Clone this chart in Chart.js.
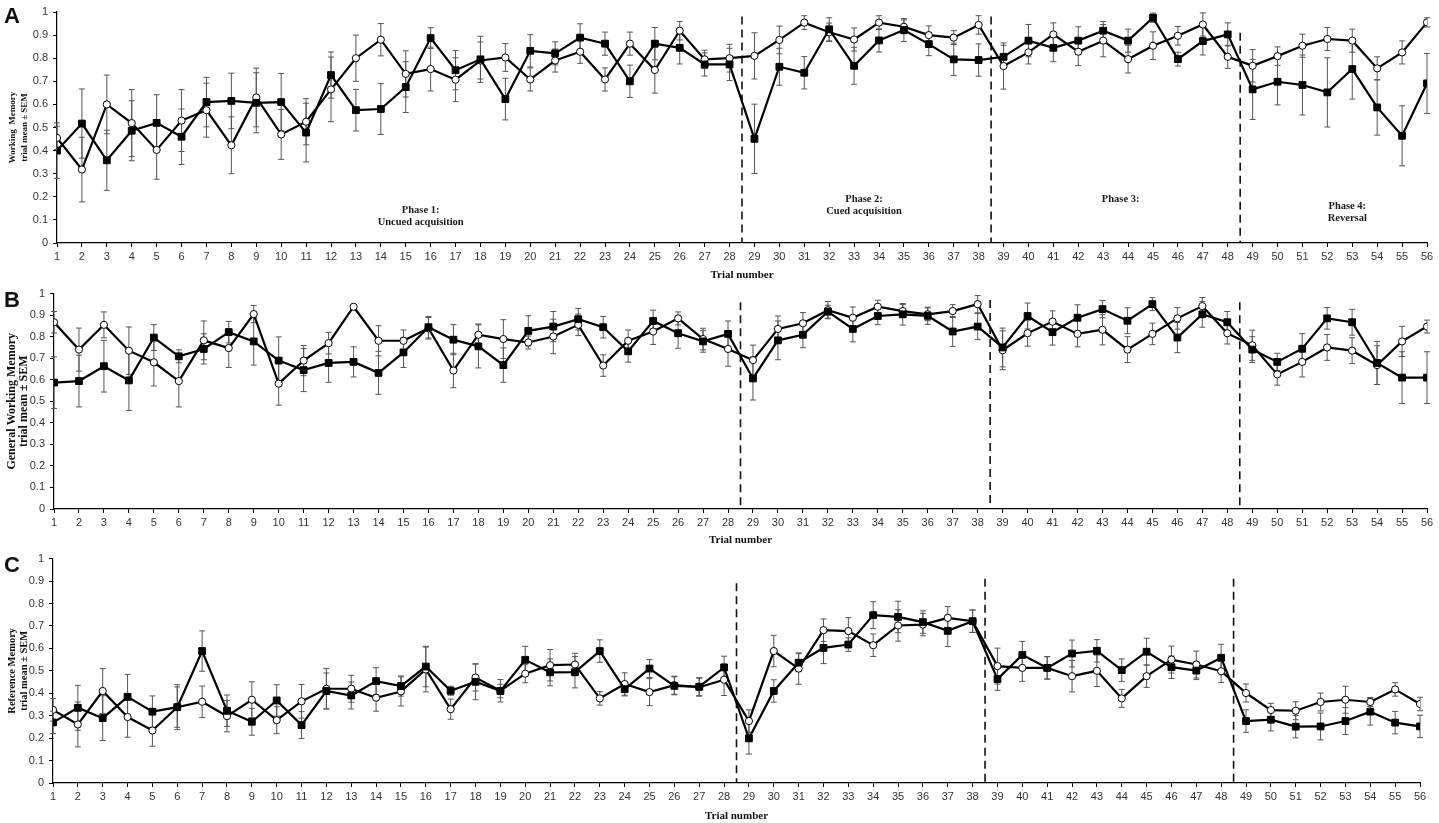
<!DOCTYPE html>
<html>
<head>
<meta charset="utf-8">
<script src="https://cdn.jsdelivr.net/npm/chart.js@4.4.1/dist/chart.umd.min.js"></script>
<style>
  body { margin: 0; background: #fff; width: 1439px; height: 823px; overflow: hidden; position: relative; }
  .panel { position: absolute; left: 0; }
  .letter { position: absolute; left: 4px; font: bold 22px "Liberation Sans", Arial, sans-serif; color: #111; }
</style>
</head>
<body>
<div class="panel" style="top:0"><canvas id="chartA" width="1439" height="282"></canvas></div>
<div class="panel" style="top:282px"><canvas id="chartB" width="1439" height="265"></canvas></div>
<div class="panel" style="top:547px"><canvas id="chartC" width="1439" height="276"></canvas></div>
<div class="letter" style="top:3px">A</div>
<div class="letter" style="top:287px">B</div>
<div class="letter" style="top:552px">C</div>
<script>
// trial numbers shared by all panels
const trials = [1, 2, 3, 4, 5, 6, 7, 8, 9, 10, 11, 12, 13, 14, 15, 16, 17, 18, 19, 20,
  21, 22, 23, 24, 25, 26, 27, 28, 29, 30, 31, 32, 33, 34, 35, 36, 37, 38, 39, 40,
  41, 42, 43, 44, 45, 46, 47, 48, 49, 50, 51, 52, 53, 54, 55, 56];

// phase boundaries (between trials)
const phaseBreaks = [28.5, 38.5, 48.5];

// A - Working memory
const wmSquare = [0.40, 0.517, 0.358, 0.486, 0.52, 0.46, 0.61, 0.615, 0.607, 0.61,
  0.478, 0.727, 0.575, 0.58, 0.675, 0.887, 0.748, 0.795, 0.623, 0.832,
  0.821, 0.889, 0.863, 0.70, 0.863, 0.845, 0.773, 0.773, 0.451, 0.763,
  0.737, 0.925, 0.767, 0.877, 0.922, 0.861, 0.795, 0.792, 0.806, 0.876,
  0.845, 0.876, 0.919, 0.876, 0.975, 0.796, 0.874, 0.903, 0.665, 0.698,
  0.684, 0.652, 0.753, 0.587, 0.464, 0.691];
const wmSquareSem = [0.12, 0.15, 0.13, 0.13, 0.122, 0.12, 0.107, 0.12, 0.13, 0.124,
  0.127, 0.10, 0.09, 0.11, 0.11, 0.045, 0.085, 0.10, 0.09, 0.07,
  0.05, 0.06, 0.05, 0.07, 0.07, 0.07, 0.05, 0.07, 0.15, 0.08,
  0.07, 0.05, 0.08, 0.05, 0.05, 0.05, 0.07, 0.07, 0.05, 0.07,
  0.06, 0.06, 0.04, 0.05, 0.02, 0.03, 0.06, 0.05, 0.13, 0.10,
  0.13, 0.15, 0.13, 0.12, 0.13, 0.13];
const wmCircle = [0.455, 0.318, 0.60, 0.519, 0.403, 0.53, 0.575, 0.423, 0.63, 0.47,
  0.525, 0.665, 0.80, 0.88, 0.732, 0.753, 0.707, 0.79, 0.803, 0.708,
  0.79, 0.828, 0.708, 0.863, 0.749, 0.919, 0.795, 0.80, 0.81, 0.879,
  0.954, 0.912, 0.881, 0.954, 0.936, 0.90, 0.889, 0.944, 0.766, 0.825,
  0.903, 0.828, 0.876, 0.796, 0.854, 0.897, 0.946, 0.806, 0.767, 0.809,
  0.854, 0.883, 0.876, 0.756, 0.825, 0.955];
const wmCircleSem = [0.05, 0.14, 0.127, 0.145, 0.127, 0.134, 0.117, 0.123, 0.127, 0.108,
  0.10, 0.14, 0.10, 0.07, 0.10, 0.095, 0.095, 0.08, 0.06, 0.05,
  0.05, 0.05, 0.05, 0.05, 0.10, 0.04, 0.04, 0.06, 0.10, 0.06,
  0.03, 0.04, 0.05, 0.03, 0.03, 0.04, 0.03, 0.04, 0.10, 0.05,
  0.05, 0.06, 0.07, 0.06, 0.06, 0.04, 0.05, 0.05, 0.07, 0.04,
  0.05, 0.05, 0.05, 0.05, 0.05, 0.02];

// B - General working memory
const gwmSquare = [0.587, 0.594, 0.663, 0.597, 0.796, 0.709, 0.743, 0.821, 0.778, 0.689,
  0.645, 0.678, 0.683, 0.632, 0.727, 0.844, 0.786, 0.755, 0.668, 0.827,
  0.847, 0.881, 0.844, 0.732, 0.873, 0.816, 0.778, 0.813, 0.606, 0.783,
  0.809, 0.916, 0.836, 0.896, 0.904, 0.897, 0.824, 0.847, 0.75, 0.896,
  0.821, 0.888, 0.928, 0.874, 0.951, 0.796, 0.904, 0.867, 0.74, 0.683,
  0.744, 0.885, 0.867, 0.678, 0.61, 0.61];
const gwmSquareSem = [0.12, 0.12, 0.12, 0.14, 0.06, 0.03, 0.07, 0.05, 0.11, 0.11,
  0.10, 0.09, 0.07, 0.10, 0.07, 0.05, 0.07, 0.10, 0.08, 0.07,
  0.07, 0.05, 0.05, 0.05, 0.05, 0.07, 0.05, 0.06, 0.10, 0.09,
  0.06, 0.03, 0.06, 0.04, 0.05, 0.04, 0.07, 0.06, 0.09, 0.06,
  0.06, 0.06, 0.04, 0.06, 0.03, 0.07, 0.06, 0.05, 0.06, 0.04,
  0.07, 0.05, 0.06, 0.10, 0.12, 0.12];
const gwmCircle = [0.867, 0.74, 0.855, 0.735, 0.681, 0.594, 0.783, 0.747, 0.905, 0.582,
  0.689, 0.77, 0.939, 0.781, 0.781, 0.839, 0.643, 0.809, 0.789, 0.773,
  0.801, 0.855, 0.666, 0.781, 0.824, 0.885, 0.789, 0.743, 0.691, 0.836,
  0.862, 0.923, 0.888, 0.939, 0.919, 0.904, 0.919, 0.951, 0.737, 0.816,
  0.87, 0.813, 0.832, 0.74, 0.813, 0.885, 0.942, 0.816, 0.76, 0.625,
  0.683, 0.75, 0.735, 0.668, 0.778, 0.847];
const gwmCircleSem = [0.05, 0.10, 0.06, 0.11, 0.11, 0.12, 0.09, 0.09, 0.04, 0.10,
  0.07, 0.05, 0, 0.07, 0.05, 0.05, 0.08, 0.05, 0.09, 0.03,
  0.08, 0.05, 0.05, 0.05, 0.06, 0.03, 0.05, 0.08, 0.07, 0.06,
  0.05, 0.04, 0.05, 0.03, 0.03, 0.03, 0.03, 0.04, 0.09, 0.06,
  0.05, 0.06, 0.07, 0.06, 0.05, 0.05, 0.04, 0.05, 0.07, 0.05,
  0.07, 0.06, 0.06, 0.09, 0.07, 0.03];

// C - Reference memory
const rmSquare = [0.27, 0.335, 0.289, 0.384, 0.318, 0.338, 0.588, 0.322, 0.273, 0.368,
  0.258, 0.41, 0.39, 0.454, 0.432, 0.519, 0.411, 0.451, 0.41, 0.549,
  0.493, 0.494, 0.588, 0.418, 0.51, 0.433, 0.429, 0.515, 0.199, 0.41,
  0.536, 0.602, 0.617, 0.748, 0.74, 0.717, 0.678, 0.721, 0.463, 0.571,
  0.513, 0.577, 0.589, 0.503, 0.585, 0.516, 0.501, 0.558, 0.276, 0.282,
  0.251, 0.252, 0.276, 0.318, 0.269, 0.252];
const rmSquareSem = [0.05, 0.10, 0.10, 0.10, 0.07, 0.10, 0.09, 0.07, 0.06, 0.07,
  0.06, 0.08, 0.06, 0.06, 0.045, 0.09, 0.02, 0.08, 0.03, 0.06,
  0.06, 0.07, 0.05, 0.03, 0.04, 0.04, 0.04, 0.05, 0.07, 0.05,
  0.04, 0.07, 0.03, 0.06, 0.07, 0.05, 0.07, 0.05, 0.05, 0.06,
  0.05, 0.06, 0.05, 0.05, 0.06, 0.05, 0.04, 0.06, 0.05, 0.05,
  0.05, 0.06, 0.06, 0.06, 0.05, 0.05];
const rmCircle = [0.326, 0.261, 0.41, 0.294, 0.234, 0.338, 0.362, 0.298, 0.371, 0.28,
  0.364, 0.42, 0.42, 0.38, 0.408, 0.506, 0.329, 0.47, 0.411, 0.487,
  0.525, 0.528, 0.377, 0.441, 0.405, 0.436, 0.427, 0.46, 0.276, 0.588,
  0.51, 0.681, 0.677, 0.614, 0.702, 0.706, 0.736, 0.721, 0.521, 0.513,
  0.513, 0.476, 0.50, 0.377, 0.476, 0.55, 0.528, 0.498, 0.401, 0.325,
  0.322, 0.361, 0.371, 0.361, 0.417, 0.352];
const rmCircleSem = [0.05, 0.10, 0.10, 0.09, 0.07, 0.09, 0.07, 0.07, 0.08, 0.06,
  0.075, 0.09, 0.06, 0.06, 0.065, 0.10, 0.045, 0.06, 0.05, 0.04,
  0.07, 0.05, 0.03, 0.05, 0.06, 0.04, 0.04, 0.07, 0.05, 0.07,
  0.07, 0.05, 0.06, 0.05, 0.07, 0.05, 0.05, 0.05, 0.08, 0.06,
  0.05, 0.07, 0.07, 0.04, 0.05, 0.06, 0.06, 0.05, 0.04, 0.03,
  0.04, 0.04, 0.06, 0.02, 0.03, 0.03];

// phase captions in panel A, placed in data coordinates
const phaseLabels = [
  { x: 15.6, y: 0.14, lines: ['Phase 1:', 'Uncued acquisition'] },
  { x: 33.4, y: 0.19, lines: ['Phase 2:', 'Cued acquisition'] },
  { x: 43.7, y: 0.19, lines: ['Phase 3:'] },
  { x: 52.8, y: 0.16, lines: ['Phase 4:', 'Reversal'] }
];

const serif = '"Liberation Serif", "Times New Roman", serif';
const sans = '"Liberation Sans", Arial, sans-serif';

function pts(vals) {
  return trials.map((t, i) => ({ x: t, y: vals[i] }));
}

const errorBars = {
  id: 'errorBars',
  beforeDatasetsDraw(chart) {
    const { ctx } = chart;
    const y = chart.scales.y;
    ctx.save();
    ctx.strokeStyle = '#555';
    ctx.lineWidth = 1;
    chart.data.datasets.forEach((ds, i) => {
      const meta = chart.getDatasetMeta(i);
      meta.data.forEach((pt, j) => {
        const s = ds.sem[j];
        if (!s) return;
        const v = ds.data[j].y;
        const yt = y.getPixelForValue(v + s);
        const yb = y.getPixelForValue(v - s);
        ctx.beginPath();
        ctx.moveTo(pt.x, yt); ctx.lineTo(pt.x, yb);
        ctx.moveTo(pt.x - 3, yt); ctx.lineTo(pt.x + 3, yt);
        ctx.moveTo(pt.x - 3, yb); ctx.lineTo(pt.x + 3, yb);
        ctx.stroke();
      });
    });
    ctx.restore();
  }
};

const phaseLines = {
  id: 'phaseLines',
  beforeDatasetsDraw(chart, args, opts) {
    const { ctx } = chart;
    const x = chart.scales.x, y = chart.scales.y;
    ctx.save();
    ctx.strokeStyle = '#111';
    ctx.lineWidth = 1.6;
    ctx.setLineDash([8, 5]);
    phaseBreaks.forEach((b, i) => {
      const px = x.getPixelForValue(b);
      ctx.beginPath();
      ctx.moveTo(px, y.getPixelForValue(opts.tops[i]));
      ctx.lineTo(px, y.getPixelForValue(0));
      ctx.stroke();
    });
    ctx.setLineDash([]);
    if (opts.labels) {
      ctx.fillStyle = '#1a1a1a';
      ctx.font = 'bold 10.5px ' + serif;
      ctx.textAlign = 'center';
      ctx.textBaseline = 'middle';
      opts.labels.forEach(l => {
        const px = x.getPixelForValue(l.x);
        const py = y.getPixelForValue(l.y);
        l.lines.forEach((t, k) => ctx.fillText(t, px, py + k * 12));
      });
    }
    ctx.restore();
  }
};

function makePanel(id, p) {
  new Chart(document.getElementById(id), {
    type: 'line',
    data: {
      datasets: [
        {
          label: 'Group 1',
          data: pts(p.sq), sem: p.sqSem,
          borderColor: '#000', backgroundColor: '#000',
          borderWidth: 2.2, pointStyle: 'rect', pointRadius: 4.8,
          pointBorderWidth: 1, pointBackgroundColor: '#000', tension: 0
        },
        {
          label: 'Group 2',
          data: pts(p.ci), sem: p.ciSem,
          borderColor: '#000', backgroundColor: '#fff',
          borderWidth: 2.2, pointStyle: 'circle', pointRadius: 3.6,
          pointBorderWidth: 1, pointBackgroundColor: '#fff', tension: 0
        }
      ]
    },
    options: {
      responsive: false,
      animation: false,
      layout: { padding: { top: p.top, right: p.right, left: 0, bottom: 0 } },
      plugins: {
        legend: { display: false },
        tooltip: { enabled: false },
        phaseLines: { tops: p.dashTops, labels: p.labels }
      },
      scales: {
        x: {
          type: 'linear', min: 1, max: 56,
          afterFit(s) { s.height = p.xh; },
          grid: { drawOnChartArea: false, drawTicks: true, tickLength: 4, color: '#000' },
          border: { color: '#000', width: 1.2 },
          ticks: { stepSize: 1, autoSkip: false, maxRotation: 0, padding: 3,
                   color: '#333', font: { family: sans, size: 11 } },
          title: { display: true, text: 'Trial number', color: '#111',
                   font: { family: serif, size: 11, weight: 'bold' }, padding: { top: 1, bottom: 0 } }
        },
        y: {
          min: 0, max: 1,
          afterFit(s) { s.width = p.left; },
          grid: { drawOnChartArea: false, drawTicks: true, tickLength: 4, color: '#000' },
          border: { color: '#000', width: 1.2 },
          ticks: { stepSize: 0.1, padding: 5, color: '#333', font: { family: sans, size: 11 },
                   callback: v => String(Number(v.toFixed(1))) },
          title: { display: true, text: p.ytitle, color: '#111',
                   font: { family: serif, size: p.tsize, weight: 'bold', lineHeight: p.tline },
                   padding: { top: p.tpad, bottom: 0 } }
        }
      }
    },
    plugins: [errorBars, phaseLines]
  });
}

makePanel('chartA', {
  sq: wmSquare, sqSem: wmSquareSem, ci: wmCircle, ciSem: wmCircleSem,
  ytitle: ['Working  Memory', 'trial mean \u00b1 SEM'],
  tsize: 9, tline: '12px', tpad: 7,
  top: 12, right: 12, left: 57, xh: 39,
  dashTops: [0.98, 0.98, 0.91], labels: phaseLabels
});
makePanel('chartB', {
  sq: gwmSquare, sqSem: gwmSquareSem, ci: gwmCircle, ciSem: gwmCircleSem,
  ytitle: ['General Working Memory', 'trial mean \u00b1 SEM'],
  tsize: 12, tline: '12px', tpad: 6,
  top: 10, right: 12, left: 54, xh: 38,
  dashTops: [0.96, 0.97, 0.96], labels: null
});
makePanel('chartC', {
  sq: rmSquare, sqSem: rmSquareSem, ci: rmCircle, ciSem: rmCircleSem,
  ytitle: ['Reference Memory', 'trial mean \u00b1 SEM'],
  tsize: 10.5, tline: '12px', tpad: 6,
  top: 11, right: 19, left: 53, xh: 40,
  dashTops: [0.89, 0.91, 0.91], labels: null
});
</script>
</body>
</html>
